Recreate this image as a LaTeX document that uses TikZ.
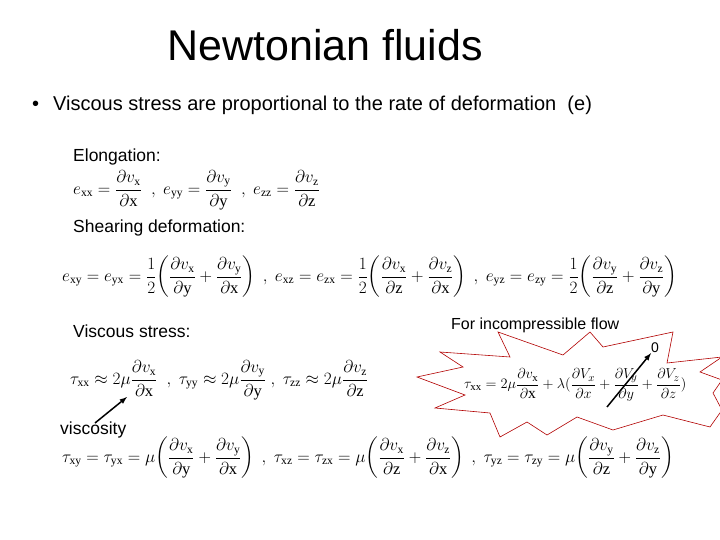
\documentclass[tikz,border=0pt]{standalone}
\usepackage{amsmath}
\usepackage{fontspec}
\setmainfont{Liberation Sans}
\newfontfamily\serif{Liberation Serif}
\newcommand\rs[1]{\text{\serif #1}}
\begin{document}
\begin{tikzpicture}[x=1pt,y=-1pt,
  txt/.style={anchor=west,inner sep=0pt,font=\fontsize{17.5}{20}\selectfont},
  eq/.style={anchor=west,inner sep=0pt,font=\fontsize{16.5}{19}\selectfont},
  ptr/.style={-latex,line width=1.5pt}]
\useasboundingbox (0,0) rectangle (720,540);
\fill[white] (0,0) rectangle (720,540);
\node[inner sep=0pt,font=\fontsize{43}{48}\selectfont] (title) at (325,45) {Newtonian fluids};
\node[txt,font=\fontsize{20}{24}\selectfont] (bullet) at (32,105) {\textbullet\hspace{14pt}Viscous stress are proportional to the rate of deformation\ \ (e)};
\node[txt] (el) at (73,157) {Elongation:};
\node[eq] (eqe) at (73,190) {$\displaystyle e_{\rs{xx}}=\frac{\partial v_{\rs x}}{\partial \rs x}\ \ ,\ e_{\rs{yy}}=\frac{\partial v_{\rs y}}{\partial \rs y}\ \ ,\ e_{\rs{zz}}=\frac{\partial v_{\rs z}}{\partial \rs z}$};
\node[txt] (sh) at (73,228) {Shearing deformation:};
\node[eq] (eqs) at (62,277) {$\displaystyle e_{\rs{xy}}=e_{\rs{yx}}=\frac12\!\left(\frac{\partial v_{\rs x}}{\partial \rs y}+\frac{\partial v_{\rs y}}{\partial \rs x}\right)\ ,\ e_{\rs{xz}}=e_{\rs{zx}}=\frac12\!\left(\frac{\partial v_{\rs x}}{\partial \rs z}+\frac{\partial v_{\rs z}}{\partial \rs x}\right)\ ,\ e_{\rs{yz}}=e_{\rs{zy}}=\frac12\!\left(\frac{\partial v_{\rs y}}{\partial \rs z}+\frac{\partial v_{\rs z}}{\partial \rs y}\right)$};
\node[txt] (vs) at (73,331) {Viscous stress:};
\node[txt,font=\fontsize{16}{19}\selectfont] (inc) at (451,325) {For incompressible flow};
\draw[red!70!black,fill=white,line width=0.6pt] (440,352) -- (510,357) -- (498,332) -- (563,355) -- (590,332) -- (603,347) -- (673,332) -- (667,363) -- (722,357) -- (700,372) -- (722,380) -- (713,393) -- (722,410) -- (710,427) -- (663,415) -- (613,430) -- (577,417) -- (547,435) -- (527,422) -- (500,437) -- (490,413) -- (435,408) -- (465,395) -- (417,377) -- (463,367) -- cycle;
\node[eq] (eqt) at (70,380) {$\displaystyle \tau_{\rs{xx}}\approx2\mu\frac{\partial v_{\rs x}}{\partial \rs x}\ \ ,\ \tau_{\rs{yy}}\approx2\mu\frac{\partial v_{\rs y}}{\partial \rs y}\ ,\ \tau_{\rs{zz}}\approx2\mu\frac{\partial v_{\rs z}}{\partial \rs z}$};
\node[eq,font=\fontsize{15.5}{18}\selectfont] (eqi) at (464,385) {$\displaystyle \tau_{\rs{xx}}=2\mu\frac{\partial v_{\rs x}}{\partial \rs x}+\lambda(\frac{\partial V_x}{\partial x}+\frac{\partial V_y}{\partial y}+\frac{\partial V_z}{\partial z})$};
\node[txt,font=\fontsize{14}{16}\selectfont] (zero) at (651,348) {0};
\node[txt] (visc) at (60,430) {viscosity};
\coordinate (mu) at (127,397);
\coordinate (vs0) at (95,423);
\coordinate (ot) at (607,407);
\draw[ptr] (vs0) -- (mu);
\draw[ptr] (ot) -- (zero.south west);
\node[eq] (eqv) at (62,458) {$\displaystyle \tau_{\rs{xy}}=\tau_{\rs{yx}}=\mu\!\left(\frac{\partial v_{\rs x}}{\partial \rs y}+\frac{\partial v_{\rs y}}{\partial \rs x}\right)\ ,\ \tau_{\rs{xz}}=\tau_{\rs{zx}}=\mu\!\left(\frac{\partial v_{\rs x}}{\partial \rs z}+\frac{\partial v_{\rs z}}{\partial \rs x}\right)\ ,\ \tau_{\rs{yz}}=\tau_{\rs{zy}}=\mu\!\left(\frac{\partial v_{\rs y}}{\partial \rs z}+\frac{\partial v_{\rs z}}{\partial \rs y}\right)$};
\end{tikzpicture}
\end{document}
